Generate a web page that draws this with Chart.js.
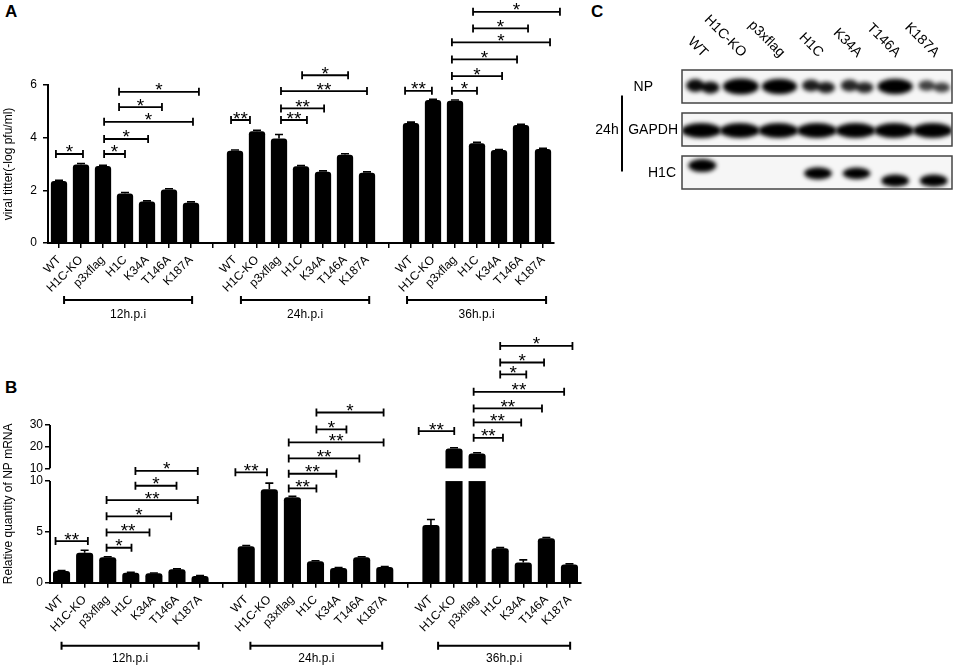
<!DOCTYPE html>
<html>
<head>
<meta charset="utf-8">
<script src="https://cdn.jsdelivr.net/npm/chart.js@4.4.1/dist/chart.umd.min.js"></script>
<style>
	html, body { margin: 0; padding: 0; background: #fff; }
	body { width: 965px; height: 668px; position: relative; overflow: hidden; font-family: "Liberation Sans", Arial, sans-serif; }
	canvas { position: absolute; }
	.letter { position: absolute; font-weight: bold; font-size: 17px; color: #000; }
</style>
</head>
<body>
<div class="letter" style="left:5px; top:2px">A</div>
<div class="letter" style="left:5px; top:378px">B</div>
<div class="letter" style="left:591px; top:2px">C</div>
<canvas id="chartA" width="600" height="330" style="left:0; top:0"></canvas>
<canvas id="chartB" width="620" height="338" style="left:0; top:330px"></canvas>
<canvas id="chartC" width="385" height="220" style="left:580px; top:0"></canvas>
<script>
const categories = ['WT', 'H1C-KO', 'p3xflag', 'H1C', 'K34A', 'T146A', 'K187A']
const timeGroups = ['12h.p.i', '24h.p.i', '36h.p.i']

// A: viral titer (-log pfu/ml)
const titer12h = [2.35, 2.98, 2.92, 1.88, 1.58, 2.03, 1.53]
const titer24h = [3.50, 4.24, 3.97, 2.91, 2.71, 3.35, 2.67]
const titer36h = [4.56, 5.43, 5.40, 3.79, 3.53, 4.48, 3.57]
const titerErr12h = [0.03, 0.04, 0.03, 0.04, 0.02, 0.03, 0.03]
const titerErr24h = [0.03, 0.04, 0.15, 0.03, 0.03, 0.04, 0.03]
const titerErr36h = [0.03, 0.03, 0.03, 0.03, 0.02, 0.03, 0.03]
const titerTicks = [0, 2, 4, 6]
// [from slot, to slot, level, stars]
const titerBrackets = [
	[-0.14, 1.09, 3.38, '*'],
	[2.05, 3.0, 3.38, '*'],
	[2.05, 4.05, 3.95, '*'],
	[2.05, 6.09, 4.6, '*'],
	[2.73, 4.68, 5.16, '*'],
	[2.73, 6.36, 5.74, '*'],
	[7.82, 8.68, 4.67, '**'],
	[10.09, 11.27, 4.67, '**'],
	[10.09, 12.05, 5.11, '**'],
	[10.09, 14.0, 5.77, '**'],
	[11.05, 13.14, 6.37, '*'],
	[15.73, 16.95, 5.78, '**'],
	[17.86, 19.0, 5.78, '*'],
	[17.86, 20.14, 6.34, '*'],
	[17.86, 20.82, 6.97, '*'],
	[17.86, 22.32, 7.62, '*'],
	[18.82, 21.32, 8.15, '*'],
	[18.82, 22.77, 8.78, '*']
]
const titerGroupSpans = [[0.23, 6.05], [8.27, 14.1], [15.82, 22.14]]

// B: relative quantity of NP mRNA (broken axis 0-10 / 10-30)
const mrna12h = [1.15, 2.95, 2.50, 0.98, 0.92, 1.32, 0.66]
const mrna24h = [3.58, 9.2, 8.4, 2.1, 1.45, 2.5, 1.55]
const mrna36h = [5.67, 19.2, 16.9, 3.38, 2.0, 4.37, 1.8]
const mrnaErr12h = [0.05, 0.25, 0.05, 0.04, 0.03, 0.04, 0.04]
const mrnaErr24h = [0.08, 0.6, 0.1, 0.06, 0.05, 0.05, 0.05]
const mrnaErr36h = [0.55, 0.3, 0.3, 0.07, 0.25, 0.08, 0.05]
const mrnaTicksLower = [0, 5, 10]
const mrnaTicksUpper = [10, 20, 30]
const mrnaTickLabels = ['0', '5', '10', '10', '20', '30']
// levels are in drawn axis units
const mrnaBrackets = [
	[-0.26, 1.14, 4.1, '**'],
	[1.95, 3.03, 3.44, '*'],
	[1.95, 3.81, 4.95, '**'],
	[1.95, 4.75, 6.53, '*'],
	[1.95, 5.9, 8.13, '**'],
	[3.2, 4.98, 9.54, '*'],
	[3.2, 5.9, 11.0, '*'],
	[7.53, 8.9, 10.86, '**'],
	[9.84, 11.04, 9.28, '**'],
	[9.84, 11.9, 10.72, '**'],
	[9.84, 12.9, 12.23, '**'],
	[9.84, 13.95, 13.8, '**'],
	[11.04, 12.34, 15.08, '*'],
	[11.04, 13.95, 16.75, '*'],
	[15.47, 17.01, 14.92, '**'],
	[17.85, 19.12, 14.26, '**'],
	[17.85, 19.91, 15.77, '**'],
	[17.85, 20.81, 17.15, '**'],
	[17.85, 21.77, 18.78, '**'],
	[19.0, 20.13, 20.49, '*'],
	[19.0, 20.9, 21.67, '*'],
	[19.0, 22.13, 23.3, '*']
]
const mrnaGroupSpans = [[0, 5.94], [8.18, 13.89], [16.31, 22.03]]

// C: western blot, 24h
const blotRows = ['NP', 'GAPDH', 'H1C']
const npBands = [0.75, 1.0, 0.95, 0.65, 0.6, 0.95, 0.45]
const npDoublet = [1, 0, 0, 1, 1, 0, 1]
const gapdhBands = [1, 1, 1, 1, 1, 1, 1]
const h1cBands = [1, 0, 0, 0.95, 0.9, 0.95, 0.95]
const h1cShift = [-0.16, 0, 0, 0.02, 0.02, 0.19, 0.19]

Chart.defaults.font.family = '"Liberation Sans", Arial, sans-serif'
Chart.defaults.font.size = 12
Chart.defaults.color = '#000'

const slotLabels = [...categories, '', ...categories, '', ...categories]
const joinGroups = (a, b, c) => [...a, null, ...b, null, ...c]

// broken axis mapping for panel B
const BREAK_AT = 10
const BREAK_GAP = 1.25
const UPPER_K = 0.2134
const upperAxis = (v) => BREAK_AT + BREAK_GAP + (v - BREAK_AT) * UPPER_K
const mrnaAxis = (v) => (v <= BREAK_AT ? v : upperAxis(v))

function drawStars(ctx, text, cx, lineY) {
	ctx.font = '19px "Liberation Sans", Arial, sans-serif'
	ctx.textAlign = 'center'
	ctx.textBaseline = 'alphabetic'
	const m = ctx.measureText(text)
	ctx.fillText(text, cx, lineY - 1.5 - m.actualBoundingBoxDescent)
}

function annotator(cfg) {
	return {
		id: 'annotate',
		afterDatasetsDraw(chart) {
			const { ctx, chartArea } = chart
			const x = chart.scales.x
			const y = chart.scales.y
			const meta = chart.getDatasetMeta(0)
			ctx.save()

			// white gap through bars that cross the axis break
			if (cfg.broken) {
				const yLo = y.getPixelForValue(BREAK_AT)
				const yHi = y.getPixelForValue(BREAK_AT + BREAK_GAP)
				ctx.fillStyle = '#fff'
				meta.data.forEach((bar, i) => {
					const v = cfg.values[i]
					if (v != null && v > BREAK_AT) {
						ctx.fillRect(bar.x - bar.width / 2 - 1, yHi, bar.width + 2, yLo - yHi)
					}
				})
			}

			// error bars
			ctx.strokeStyle = '#000'
			ctx.fillStyle = '#000'
			ctx.lineWidth = 1.6
			meta.data.forEach((bar, i) => {
				const v = cfg.values[i]
				if (v == null) return
				const top = y.getPixelForValue(cfg.toAxis(v + cfg.errors[i]))
				ctx.beginPath()
				ctx.moveTo(bar.x, bar.y)
				ctx.lineTo(bar.x, top)
				ctx.moveTo(bar.x - 4, top)
				ctx.lineTo(bar.x + 4, top)
				ctx.stroke()
			})

			// significance brackets
			ctx.lineWidth = 1.8
			cfg.brackets.forEach(([from, to, level, stars]) => {
				const x1 = x.getPixelForValue(from)
				const x2 = x.getPixelForValue(to)
				const yy = y.getPixelForValue(level)
				ctx.beginPath()
				ctx.moveTo(x1, yy)
				ctx.lineTo(x2, yy)
				ctx.moveTo(x1, yy - 4)
				ctx.lineTo(x1, yy + 4)
				ctx.moveTo(x2, yy - 4)
				ctx.lineTo(x2, yy + 4)
				ctx.stroke()
				drawStars(ctx, stars, (x1 + x2) / 2, yy)
			})

			// time point spans under the axis
			ctx.lineWidth = 2
			const ly = chartArea.bottom + cfg.spanOffset
			cfg.spans.forEach(([from, to], g) => {
				const x1 = x.getPixelForValue(from)
				const x2 = x.getPixelForValue(to)
				ctx.beginPath()
				ctx.moveTo(x1, ly)
				ctx.lineTo(x2, ly)
				ctx.moveTo(x1, ly - 4)
				ctx.lineTo(x1, ly + 4)
				ctx.moveTo(x2, ly - 4)
				ctx.lineTo(x2, ly + 4)
				ctx.stroke()
				ctx.font = '12px "Liberation Sans", Arial, sans-serif'
				ctx.textAlign = 'center'
				ctx.textBaseline = 'middle'
				ctx.fillText(timeGroups[g], (x1 + x2) / 2, ly + cfg.spanText)
			})

			// broken y axis line
			if (cfg.broken) {
				ctx.lineWidth = 2
				ctx.beginPath()
				ctx.moveTo(chartArea.left, y.getPixelForValue(0) + 1)
				ctx.lineTo(chartArea.left, y.getPixelForValue(BREAK_AT))
				ctx.moveTo(chartArea.left, y.getPixelForValue(upperAxis(BREAK_AT)))
				ctx.lineTo(chartArea.left, y.getPixelForValue(upperAxis(30)))
				ctx.stroke()
			}
			ctx.restore()
		}
	}
}

function barChart(id, cfg) {
	return new Chart(document.getElementById(id), {
		type: 'bar',
		data: {
			labels: slotLabels,
			datasets: [
				{
					data: cfg.values.map((v) => (v == null ? null : cfg.toAxis(v))),
					backgroundColor: '#000',
					barPercentage: 0.74,
					categoryPercentage: 1,
					borderRadius: { topLeft: 3, topRight: 3 }
				}
			]
		},
		options: {
			responsive: false,
			animation: false,
			layout: { padding: cfg.padding },
			plugins: {
				legend: { display: false },
				tooltip: { enabled: false }
			},
			scales: {
				x: {
					grid: { drawOnChartArea: false, offset: false, color: '#000', lineWidth: 1.5, tickLength: 5 },
					border: { display: true, color: '#000', width: 2 },
					ticks: { autoSkip: false, maxRotation: 45, minRotation: 45, padding: 5 },
					afterFit: (s) => {
						s.height = 60
					}
				},
				y: {
					min: 0,
					max: cfg.max,
					grid: { drawOnChartArea: false, color: '#000', lineWidth: 1.5, tickLength: 5 },
					border: { display: !cfg.broken, color: '#000', width: 2 },
					ticks: {
						padding: cfg.tickPad,
						callback: (v, i) => cfg.tickLabels[i]
					},
					afterBuildTicks: (s) => {
						s.ticks = cfg.tickValues.map((v) => ({ value: v }))
					},
					title: { display: true, text: cfg.title, padding: { top: 1, bottom: 0 } },
					afterFit: (s) => {
						s.width = cfg.yWidth
					}
				}
			}
		},
		plugins: [annotator(cfg)]
	})
}

barChart('chartA', {
	values: joinGroups(titer12h, titer24h, titer36h),
	errors: joinGroups(titerErr12h, titerErr24h, titerErr36h),
	toAxis: (v) => v,
	max: 6,
	tickValues: titerTicks,
	tickLabels: titerTicks.map(String),
	title: 'viral titter(-log pfu/ml)',
	brackets: titerBrackets,
	spans: titerGroupSpans,
	padding: { top: 85, left: 0, right: 46, bottom: 27 },
	yWidth: 48,
	tickPad: 6,
	spanOffset: 57,
	spanText: 15,
	broken: false
})

barChart('chartB', {
	values: joinGroups(mrna12h, mrna24h, mrna36h),
	errors: joinGroups(mrnaErr12h, mrnaErr24h, mrnaErr36h),
	toAxis: mrnaAxis,
	max: upperAxis(30),
	tickValues: [...mrnaTicksLower, ...mrnaTicksUpper.map(upperAxis)],
	tickLabels: mrnaTickLabels,
	title: 'Relative quantity of NP mRNA',
	brackets: mrnaBrackets,
	spans: mrnaGroupSpans,
	padding: { top: 95, left: 0, right: 39, bottom: 25.3 },
	yWidth: 50,
	tickPad: 2,
	spanOffset: 63,
	spanText: 13,
	broken: true
})

// panel C: lanes on x, blot rows on y
const blotPlugin = {
	id: 'blot',
	afterDraw(chart) {
		const { ctx, chartArea } = chart
		const x = chart.scales.x
		const y = chart.scales.y
		const half = 16.5
		ctx.save()

		// lane labels
		ctx.font = '14px "Liberation Sans", Arial, sans-serif'
		ctx.fillStyle = '#000'
		ctx.textAlign = 'right'
		ctx.textBaseline = 'middle'
		categories.forEach((c, i) => {
			ctx.save()
			ctx.translate(x.getPixelForValue(i) + 4, chartArea.top - 10)
			ctx.rotate(Math.PI / 4)
			ctx.fillText(c, 0, 0)
			ctx.restore()
		})

		// row labels
		const labelRight = [-29, -4, -6]
		blotRows.forEach((r, k) => {
			ctx.fillText(r, chartArea.left + labelRight[k], y.getPixelForValue(k) + 1)
		})
		ctx.textAlign = 'center'
		ctx.fillText('24h', chartArea.left - 75, y.getPixelForValue(1) + 1)
		ctx.lineWidth = 2
		ctx.beginPath()
		ctx.moveTo(chartArea.left - 60, y.getPixelForValue(0) + 9)
		ctx.lineTo(chartArea.left - 60, y.getPixelForValue(2) - 1)
		ctx.stroke()

		const rows = [npBands, gapdhBands, h1cBands]
		rows.forEach((bands, k) => {
			const cy = y.getPixelForValue(k)
			const top = cy - half
			const w = chartArea.right - chartArea.left
			ctx.save()
			ctx.fillStyle = '#f6f6f6'
			ctx.fillRect(chartArea.left, top, w, half * 2)
			ctx.beginPath()
			ctx.rect(chartArea.left, top, w, half * 2)
			ctx.clip()
			ctx.filter = 'blur(2px)'
			bands.forEach((I, i) => {
				if (!I) return
				const cx = x.getPixelForValue(i)
				ctx.fillStyle = `rgba(0,0,0,${Math.min(1, 0.4 + 0.75 * I)})`
				ctx.beginPath()
				if (k === 0) {
					if (npDoublet[i]) {
						ctx.ellipse(cx - 6, cy - 1, 7 + 3 * I, 3.5 + 4 * I, 0, 0, Math.PI * 2)
						ctx.ellipse(cx + 9, cy + 1, 7 + 3 * I, 3.5 + 3.5 * I, 0, 0, Math.PI * 2)
					} else {
						ctx.ellipse(cx + 1, cy, 11 + 7 * I, 3.5 + 4.5 * I, 0, 0, Math.PI * 2)
					}
				} else if (k === 1) {
					ctx.ellipse(cx, cy + 1, 20 * I, 7.5 * I, 0, 0, Math.PI * 2)
				} else {
					const by = y.getPixelForValue(k + h1cShift[i])
					ctx.ellipse(cx + 1, by, 12 + 2 * I, 6.5 * I, 0, 0, Math.PI * 2)
				}
				ctx.fill()
			})
			ctx.restore()
			ctx.strokeStyle = '#444'
			ctx.lineWidth = 1.5
			ctx.strokeRect(chartArea.left, top, w, half * 2)
		})
		ctx.restore()
	}
}

new Chart(document.getElementById('chartC'), {
	type: 'scatter',
	data: { datasets: [] },
	options: {
		responsive: false,
		animation: false,
		layout: { padding: { left: 102, right: 13, top: 65, bottom: 26 } },
		plugins: { legend: { display: false }, tooltip: { enabled: false } },
		scales: {
			x: { type: 'linear', min: -0.5, max: categories.length - 0.5, display: false },
			y: { type: 'linear', min: -0.5, max: blotRows.length - 0.5, reverse: true, display: false }
		}
	},
	plugins: [blotPlugin]
})
</script>
</body>
</html>
